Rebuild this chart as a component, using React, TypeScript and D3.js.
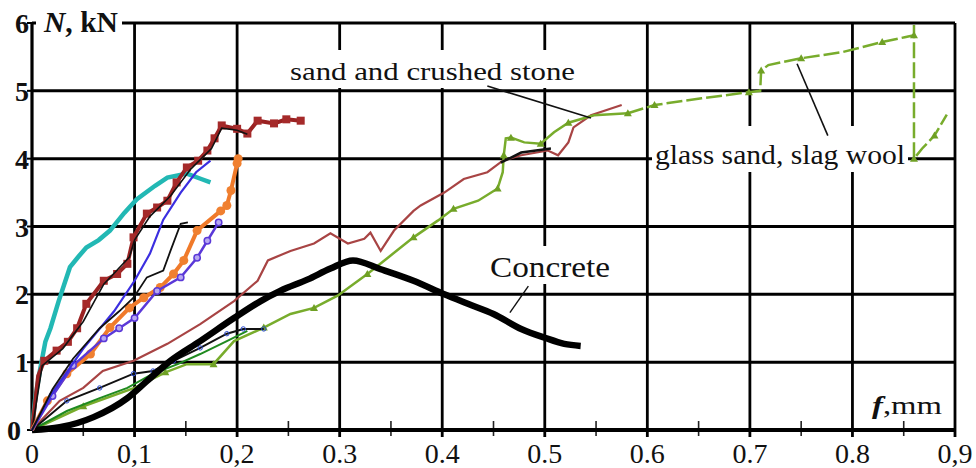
import { line, scaleLinear, curveMonotoneX, range } from 'd3'

type Pt = [number, number]

const width = 976
const height = 468

// x ticks as printed on the original scan (mixed comma / dot)
const xTicks = [0, 0.1, 0.2, 0.3, 0.4, 0.5, 0.6, 0.7, 0.8, 0.9]
const xTickLabels = ['0', '0,1', '0,2', '0.3', '0.4', '0.5', '0.6', '0.7', '0.8', '0,9']
const yTicks = [0, 1, 2, 3, 4, 5, 6]

const teal: Pt[] = [
  [0, 0], [0.003, 0.45], [0.008, 0.9], [0.013, 1.3], [0.018, 1.5], [0.026, 1.9],
  [0.037, 2.4], [0.045, 2.55], [0.053, 2.69], [0.065, 2.8], [0.076, 2.94],
  [0.09, 3.2], [0.102, 3.4], [0.12, 3.6], [0.132, 3.72], [0.151, 3.78],
  [0.165, 3.7], [0.174, 3.65],
]

const darkRed: Pt[] = [
  [0, 0], [0.006, 0.8], [0.012, 1.02], [0.024, 1.17], [0.035, 1.3], [0.044, 1.5], [0.053, 1.86],
  [0.07, 2.2], [0.083, 2.3], [0.093, 2.45], [0.099, 2.84], [0.112, 3.19],
  [0.122, 3.28], [0.132, 3.38], [0.141, 3.65], [0.151, 3.87], [0.162, 3.97],
  [0.171, 4.12], [0.178, 4.3], [0.185, 4.49], [0.2, 4.44], [0.21, 4.37],
  [0.22, 4.56], [0.236, 4.52], [0.248, 4.58], [0.262, 4.56],
]

const blackThin1: Pt[] = [
  [0, 0], [0.01, 0.95], [0.03, 1.2], [0.05, 1.6], [0.07, 2.15], [0.095, 2.55],
  [0.1, 2.8], [0.115, 3.15], [0.135, 3.45], [0.155, 3.85], [0.175, 4.15],
  [0.185, 4.45], [0.2, 4.42], [0.21, 4.36],
]

const orange: Pt[] = [
  [0, 0], [0.015, 0.43], [0.034, 0.83], [0.057, 1.12], [0.076, 1.51],
  [0.095, 1.8], [0.109, 1.95], [0.125, 2.1], [0.138, 2.3], [0.148, 2.5],
  [0.161, 2.94], [0.184, 3.23], [0.19, 3.31], [0.194, 3.53], [0.2, 3.93], [0.201, 4.0],
]

const blueLine: Pt[] = [
  [0, 0], [0.02, 0.55], [0.05, 1.2], [0.08, 1.75], [0.1, 2.2], [0.115, 2.6],
  [0.128, 3.1], [0.145, 3.5], [0.16, 3.8], [0.174, 3.97],
]

const violet: Pt[] = [
  [0, 0], [0.02, 0.5], [0.04, 0.95], [0.07, 1.35], [0.085, 1.5], [0.1, 1.65],
  [0.122, 2.05], [0.145, 2.25], [0.161, 2.54], [0.171, 2.79], [0.182, 3.06],
]

const blackThin2: Pt[] = [
  [0, 0], [0.02, 0.6], [0.04, 1.05], [0.066, 1.5], [0.085, 1.75], [0.099, 1.95],
  [0.112, 2.25], [0.128, 2.35], [0.135, 2.64], [0.145, 3.04], [0.152, 3.06],
]

const sandStone: Pt[] = [
  [0, 0], [0.027, 0.43], [0.05, 0.62], [0.069, 0.87], [0.099, 1.02], [0.132, 1.27],
  [0.164, 1.56], [0.197, 1.9], [0.22, 2.2], [0.23, 2.5], [0.252, 2.64],
  [0.275, 2.75], [0.291, 2.9], [0.308, 2.75], [0.324, 2.82], [0.33, 2.91],
  [0.34, 2.64], [0.353, 2.94], [0.372, 3.23], [0.379, 3.31], [0.402, 3.5],
  [0.421, 3.7], [0.444, 3.8], [0.459, 3.97], [0.477, 4.05], [0.503, 4.12],
  [0.513, 4.05], [0.523, 4.24], [0.528, 4.46], [0.545, 4.64], [0.575, 4.79],
]

const blackThin3: Pt[] = [[0.457, 3.94], [0.477, 4.09], [0.506, 4.15]]

const concrete: Pt[] = [
  [0, 0], [0.027, 0.04], [0.06, 0.19], [0.093, 0.47], [0.112, 0.72],
  [0.135, 1.02], [0.164, 1.31], [0.197, 1.65], [0.223, 1.9], [0.242, 2.05],
  [0.269, 2.22], [0.291, 2.38], [0.313, 2.5], [0.34, 2.37],
  [0.372, 2.2], [0.402, 2.0], [0.425, 1.86], [0.45, 1.71], [0.477, 1.49],
  [0.5, 1.36], [0.519, 1.27], [0.535, 1.24],
]

const blackMarked: Pt[] = [
  [0, 0], [0.034, 0.43], [0.066, 0.62], [0.099, 0.83], [0.118, 0.87],
  [0.138, 1.02], [0.164, 1.21], [0.19, 1.42], [0.206, 1.49], [0.226, 1.49],
]

const darkGreen: Pt[] = [
  [0, 0], [0.034, 0.28], [0.066, 0.47], [0.093, 0.62], [0.118, 0.83],
  [0.142, 0.97], [0.164, 1.12], [0.19, 1.31], [0.21, 1.46],
]

const glassSlagLower: Pt[] = [
  [0, 0], [0.05, 0.35], [0.1, 0.62], [0.13, 0.85], [0.151, 0.97], [0.177, 0.97],
  [0.197, 1.31], [0.226, 1.51], [0.252, 1.71], [0.275, 1.8], [0.298, 1.98],
  [0.327, 2.3], [0.347, 2.54], [0.372, 2.84], [0.396, 3.09], [0.411, 3.26],
  [0.435, 3.38], [0.454, 3.56], [0.459, 3.8], [0.46, 4.05], [0.462, 4.3],
  [0.467, 4.31], [0.48, 4.24], [0.496, 4.22], [0.509, 4.39], [0.523, 4.53],
  [0.548, 4.64], [0.581, 4.67],
]

const glassSlagUpper: Pt[] = [
  [0.581, 4.67], [0.607, 4.79], [0.653, 4.89], [0.699, 4.98], [0.71, 5.0],
  [0.711, 5.3], [0.718, 5.38], [0.75, 5.48], [0.79, 5.57], [0.829, 5.72],
  [0.851, 5.79], [0.86, 5.82], [0.86, 5.97], [0.86, 4.0], [0.868, 4.15],
  [0.88, 4.34], [0.892, 4.65],
]

const x = scaleLinear().domain([0, 0.9]).range([32, 955])
const y = scaleLinear().domain([0, 6]).range([430, 23])

const path = line<Pt>().x((d) => x(d[0])).y((d) => y(d[1]))
const smooth = line<Pt>().x((d) => x(d[0])).y((d) => y(d[1])).curve(curveMonotoneX)

const serif = "'Liberation Serif', 'Times New Roman', Times, serif"

const tri = (d: Pt) => {
  const cx = x(d[0])
  const cy = y(d[1])
  return `M${cx - 4},${cy + 3}L${cx + 4},${cy + 3}L${cx},${cy - 4}Z`
}

const App = () => {
  const minor = range(0.05, 0.9, 0.1)

  return (
    <div style={{ position: 'absolute', left: 0, top: 0 }}>
      <svg width={width} height={height} style={{ display: 'block', background: '#fff' }}>
        {/* grid */}
        {yTicks.slice(1, 6).map((t) => (
          <line key={'h' + t} x1={x(0)} x2={x(0.9)} y1={y(t)} y2={y(t)} stroke="#000" strokeWidth={3} />
        ))}
        <line x1={x(0)} x2={x(0.9)} y1={y(6)} y2={y(6)} stroke="#000" strokeWidth={3} />
        {xTicks.slice(1, 9).map((t) => (
          <line key={'v' + t} x1={x(t)} x2={x(t)} y1={y(6)} y2={437} stroke="#000" strokeWidth={2.8} />
        ))}
        <line x1={x(0.9)} x2={x(0.9)} y1={y(6)} y2={437} stroke="#000" strokeWidth={2.8} />
        {minor.map((t) => (
          <line key={'m' + t} x1={x(t)} x2={x(t)} y1={421} y2={436} stroke="#222" strokeWidth={1.6} />
        ))}
        {/* axes */}
        <line x1={x(0)} x2={x(0.9)} y1={y(0)} y2={y(0)} stroke="#000" strokeWidth={4} />
        <line x1={x(0)} x2={x(0)} y1={y(6)} y2={y(0)} stroke="#000" strokeWidth={3.2} />
        {yTicks.map((t) => (
          <line key={'yt' + t} x1={x(0) - 5} x2={x(0)} y1={y(t)} y2={y(t)} stroke="#000" strokeWidth={2} />
        ))}

        {/* label backgrounds */}
        <rect x={36} y={4} width={86} height={36} fill="#fff" />
        <rect x={286} y={50} width={294} height={38} fill="#fff" />
        <rect x={652} y={126} width={256} height={46} fill="#fff" />
        <rect x={487} y={246} width={126} height={38} fill="#fff" />

        {/* curves */}
        <path d={path(sandStone) ?? ''} fill="none" stroke="#a84444" strokeWidth={2.2} />
        <path d={path(glassSlagLower) ?? ''} fill="none" stroke="#78ac2c" strokeWidth={2.5} />
        <path d={path(glassSlagUpper) ?? ''} fill="none" stroke="#78ac2c" strokeWidth={2.5} strokeDasharray="16 4" />
        {glassSlagLower.concat(glassSlagUpper).filter((d, i) => i % 2 === 1).map((d, i) => (
          <path key={'tr' + i} d={tri(d)} fill="#6fa024" />
        ))}
        <path d={path(darkGreen) ?? ''} fill="none" stroke="#1f8a1f" strokeWidth={2} />
        <path d={path(blackMarked) ?? ''} fill="none" stroke="#111" strokeWidth={2} />
        {blackMarked.slice(1).map((d, i) => (
          <circle key={'bm' + i} cx={x(d[0])} cy={y(d[1])} r={2.2} fill="none" stroke="#2a4ad0" strokeWidth={1} />
        ))}
        <path d={smooth(concrete) ?? ''} fill="none" stroke="#000" strokeWidth={6.5} />
        <path d={path(blackThin3) ?? ''} fill="none" stroke="#111" strokeWidth={2.5} />

        <path d={path(teal) ?? ''} fill="none" stroke="#22b8b4" strokeWidth={4.5} />
        <path d={path(darkRed) ?? ''} fill="none" stroke="#9a2222" strokeWidth={4} />
        {darkRed.slice(2).map((d, i) => (
          <rect key={'sq' + i} x={x(d[0]) - 4} y={y(d[1]) - 4} width={8} height={8} fill="#a52a2a" />
        ))}
        <path d={path(blackThin1) ?? ''} fill="none" stroke="#111" strokeWidth={1.6} />
        <path d={path(orange) ?? ''} fill="none" stroke="#f07a2a" strokeWidth={4} />
        {orange.slice(1).map((d, i) => (
          <circle key={'or' + i} cx={x(d[0])} cy={y(d[1])} r={4.5} fill="#f08030" />
        ))}
        <path d={path(violet) ?? ''} fill="none" stroke="#5a38d8" strokeWidth={2.5} />
        {violet.slice(1).map((d, i) => (
          <circle key={'vi' + i} cx={x(d[0])} cy={y(d[1])} r={3.2} fill="#b7a8f0" stroke="#5a38d8" strokeWidth={1.5} />
        ))}
        <path d={path(blueLine) ?? ''} fill="none" stroke="#3b2ee0" strokeWidth={2.2} />
        <path d={path(blackThin2) ?? ''} fill="none" stroke="#111" strokeWidth={1.8} />

        {/* leader lines */}
        <line x1={x(0.444)} y1={y(5.07)} x2={x(0.545)} y2={y(4.6)} stroke="#111" strokeWidth={1.6} />
        <line x1={x(0.746)} y1={y(5.4)} x2={x(0.776)} y2={y(4.34)} stroke="#111" strokeWidth={1.6} />
        <line x1={x(0.484)} y1={y(2.12)} x2={x(0.466)} y2={y(1.73)} stroke="#111" strokeWidth={1.4} />

        {/* annotations */}
        <g style={{ fontFamily: serif }} fill="#111">
          <text x={290} y={80} fontSize={26} textLength={285} lengthAdjust="spacingAndGlyphs">sand and crushed stone</text>
          <text x={655} y={164} fontSize={27} textLength={250} lengthAdjust="spacingAndGlyphs">glass sand, slag wool</text>
          <text x={490} y={277} fontSize={29} textLength={120} lengthAdjust="spacingAndGlyphs">Concrete</text>
          <text x={44} y={32} fontSize={29} fontWeight="bold" textLength={74} lengthAdjust="spacingAndGlyphs">
            <tspan fontStyle="italic">N</tspan>, kN
          </text>
          <text x={872} y={414} fontSize={26} textLength={70} lengthAdjust="spacingAndGlyphs">
            <tspan fontStyle="italic" fontWeight="bold">f</tspan>,mm
          </text>
        </g>

        {/* tick labels */}
        <g style={{ fontFamily: serif }} fontSize={28} fontWeight="bold" fill="#111">
          {yTicks.map((t) => (
            <text key={'yl' + t} x={t === 0 ? 21 : 29} y={y(t)} dy="0.36em" textAnchor="end">
              {t}
            </text>
          ))}
          {xTicks.map((t, i) => (
            <text key={'xl' + t} x={x(t)} y={463} textAnchor="middle" fontWeight="normal">
              {xTickLabels[i]}
            </text>
          ))}
        </g>
      </svg>
    </div>
  )
}

export default App
